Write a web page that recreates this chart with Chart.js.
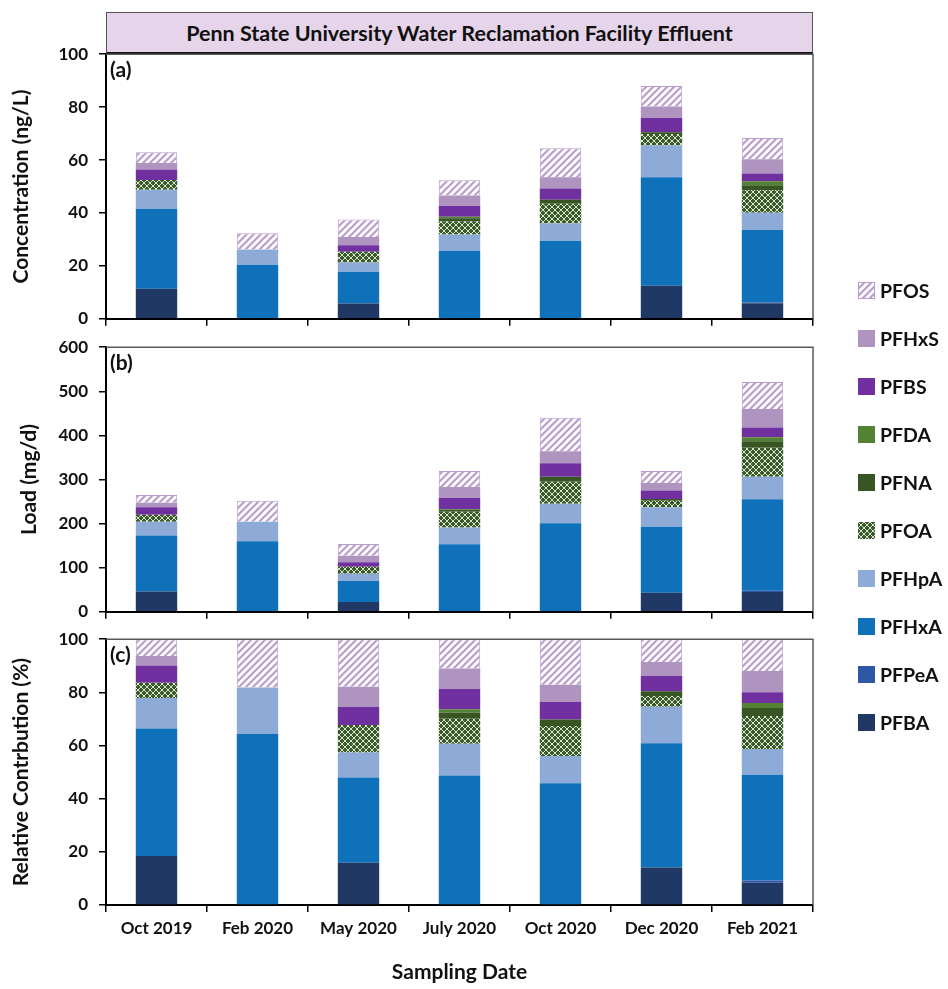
<!DOCTYPE html>
<html>
<head>
<meta charset="utf-8">
<script src="https://cdn.jsdelivr.net/npm/chart.js@4.4.1/dist/chart.umd.min.js"></script>
<style>
  html, body { margin:0; padding:0; background:#fff; }
  body { width:948px; height:989px; position:relative; overflow:hidden; font-family: Lato, "Open Sans", sans-serif; }
  #title {
    position:absolute; left:106px; top:12px; width:705px; height:39px;
    background:#e6d5ea; border:1.5px solid #555; border-bottom:2px solid #111;
    font-weight:700; font-size:21.5px; color:#111;
    display:flex; align-items:center; justify-content:center;
  }
  .panel { position:absolute; left:0; width:948px; }
  #legend { position:absolute; left:858px; top:0; }
  .item { position:absolute; left:0; display:flex; align-items:center; white-space:nowrap; font-weight:700; font-size:19.5px; color:#111; }
  .sw { width:17px; height:17px; margin-right:5px; flex:none; }
</style>
</head>
<body>
<div id="title">Penn State University Water Reclamation Facility Effluent</div>
<canvas id="chartA" class="panel" width="948" height="300"></canvas>
<canvas id="chartB" class="panel" width="948" height="300"></canvas>
<canvas id="chartC" class="panel" width="948" height="360"></canvas>
<div id="legend"></div>
<script>
// sampling campaigns
const dates = ['Oct 2019','Feb 2020','May 2020','July 2020','Oct 2020','Dec 2020','Feb 2021'];
const compounds = ['PFBA','PFPeA','PFHxA','PFHpA','PFOA','PFNA','PFDA','PFBS','PFHxS','PFOS'];

// (a) concentration, ng/L
const concPFBA  = [11.4, 0, 5.8, 0, 0, 12.5, 5.9];
const concPFPeA = [0, 0, 0, 0, 0, 0, 0.3];
const concPFHxA = [30.1, 20.4, 12.0, 25.6, 29.4, 41.0, 27.4];
const concPFHpA = [7.3, 5.8, 3.5, 6.3, 6.6, 12.0, 6.5];
const concPFOA  = [3.7, 0, 4.0, 4.9, 7.5, 4.3, 8.5];
const concPFNA  = [0, 0, 0, 1.2, 1.5, 0.7, 1.9];
const concPFDA  = [0, 0, 0, 0.6, 0, 0, 1.5];
const concPFBS  = [3.9, 0, 2.5, 4.0, 4.2, 5.4, 2.9];
const concPFHxS = [2.5, 0, 3.1, 4.0, 4.3, 4.3, 5.4];
const concPFOS  = [4.0, 6.1, 6.6, 5.8, 11.0, 7.8, 8.0];

// (b) load, mg/d
const loadPFBA  = [46, 0, 22, 0, 0, 43, 45];
const loadPFPeA = [0, 0, 0, 0, 0, 0, 3];
const loadPFHxA = [127, 160, 48, 153, 201, 150, 207];
const loadPFHpA = [31, 44, 16, 38, 44, 44, 51];
const loadPFOA  = [16, 0, 16, 36, 50, 15, 66];
const loadPFNA  = [0, 0, 0, 4, 11, 4, 15];
const loadPFDA  = [0, 0, 0, 1.5, 0, 0, 9];
const loadPFBS  = [17, 0, 10.5, 25.5, 31, 19, 22];
const loadPFHxS = [10, 0, 14.5, 25, 27, 17, 42];
const loadPFOS  = [18, 48, 27, 36, 76, 27, 61];

// (c) relative contribution, %
const pctPFBA  = [18.4, 0, 15.9, 0, 0, 14.1, 8.4];
const pctPFPeA = [0, 0, 0, 0, 0, 0, 0.8];
const pctPFHxA = [48.0, 64.3, 32.1, 48.7, 45.8, 46.8, 39.8];
const pctPFHpA = [11.5, 17.5, 9.4, 12.0, 10.3, 13.7, 9.7];
const pctPFOA  = [5.7, 0, 10.3, 9.4, 11.2, 4.0, 12.4];
const pctPFNA  = [0, 0, 0, 2.3, 2.5, 1.8, 3.0];
const pctPFDA  = [0, 0, 0, 1.2, 0, 0, 1.9];
const pctPFBS  = [6.5, 0, 6.8, 7.7, 6.6, 5.8, 4.0];
const pctPFHxS = [3.6, 0, 7.6, 7.7, 6.5, 5.2, 8.0];
const pctPFOS  = [6.3, 18.2, 17.9, 11.0, 17.1, 8.6, 12.0];

// fill patterns
function makeTile(size, draw){
  const c = document.createElement('canvas');
  c.width = size; c.height = size;
  draw(c.getContext('2d'), size);
  return c;
}
const hatchTile = makeTile(7, (g, s)=>{
  g.fillStyle = '#fff'; g.fillRect(0,0,s,s);
  g.strokeStyle = '#bb9ecc'; g.lineWidth = 2.2;
  g.beginPath();
  g.moveTo(-1, s+1); g.lineTo(s+1, -1);
  g.moveTo(-2, 2); g.lineTo(2, -2);
  g.moveTo(s-2, s+2); g.lineTo(s+2, s-2);
  g.stroke();
});
const meshTile = makeTile(6, (g, s)=>{
  g.fillStyle = '#3a5b29'; g.fillRect(0,0,s,s);
  g.strokeStyle = 'rgba(235,242,228,0.9)'; g.lineWidth = 1;
  g.beginPath();
  g.moveTo(0,0); g.lineTo(s,s);
  g.moveTo(0,s); g.lineTo(s,0);
  g.stroke();
});
const tmpCtx = document.createElement('canvas').getContext('2d');
const hatch = tmpCtx.createPattern(hatchTile, 'repeat');
const mesh  = tmpCtx.createPattern(meshTile, 'repeat');

const colors = {
  PFBA:'#1f3864', PFPeA:'#2e58a6', PFHxA:'#1071bb', PFHpA:'#8eabd8', PFOA:mesh,
  PFNA:'#375623', PFDA:'#548235', PFBS:'#7030a0', PFHxS:'#b094c0', PFOS:hatch
};

function datasets(series){
  return compounds.map((name, i)=>({
    label: name,
    data: series[i],
    backgroundColor: colors[name],
    borderColor: name==='PFOS' ? '#b99ccb' : 'transparent',
    borderWidth: name==='PFOS' ? 1 : 0,
    categoryPercentage: 0.41,
    barPercentage: 1
  }));
}

// plot frame (top + right edges) and panel tag
const frame = {
  id:'frame',
  afterDraw(chart, args, opts){
    const {ctx, chartArea:a} = chart;
    ctx.save();
    ctx.strokeStyle = '#595959'; ctx.lineWidth = 1.5;
    ctx.beginPath();
    ctx.moveTo(a.left, a.top); ctx.lineTo(a.right, a.top); ctx.lineTo(a.right, a.bottom);
    ctx.stroke();
    ctx.fillStyle = '#111';
    ctx.font = 'bold 21px Lato, "Open Sans", sans-serif';
    ctx.textBaseline = 'top';
    ctx.fillText(opts.tag, a.left + 4, a.top + 6);
    ctx.restore();
  }
};

const tickFont = { family:'Lato, "Open Sans", sans-serif', size:17, weight:'bold' };
const titleFont = { family:'Lato, "Open Sans", sans-serif', size:21, weight:'bold' };

function makeChart(canvas, series, opt){
  return new Chart(canvas, {
    type:'bar',
    data:{ labels: dates, datasets: datasets(series) },
    plugins:[frame],
    options:{
      responsive:false, maintainAspectRatio:false, animation:false, devicePixelRatio:1,
      layout:{ padding:{ top:0, right:135, left:0, bottom:0 } },
      plugins:{ legend:{display:false}, tooltip:{enabled:false}, frame:{ tag: opt.tag } },
      scales:{
        x:{
          stacked:true,
          border:{ color:'#000', width:2 },
          grid:{ drawOnChartArea:false, drawTicks:true, tickLength:7, color:'#000', lineWidth:1.5, offset:true },
          ticks:{ display: opt.showX, color:'#111', font:tickFont, padding:6, maxRotation:0 },
          title:{ display: opt.showX, text:'Sampling Date', color:'#111', font:titleFont, padding:{ top:0, bottom:4 } },
          afterFit: s => { s.height = opt.xHeight; }
        },
        y:{
          stacked:true, min:0, max:opt.max,
          border:{ color:'#000', width:2 },
          grid:{ drawOnChartArea:false, drawTicks:true, tickLength:7, color:'#000', lineWidth:1.5 },
          ticks:{ stepSize:opt.step, color:'#111', font:tickFont, padding:11 },
          title:{ display:true, text:opt.yTitle, color:'#111', font:titleFont, padding:{ top:opt.titlePad, bottom:0 } },
          afterFit: s => { s.width = 106; }
        }
      }
    }
  });
}

// build once to learn the margins around the plot area, then size the canvas
// so the plot lands on [plotTop, plotBottom]
function buildPanel(id, series, opt){
  const canvas = document.getElementById(id);
  let chart = makeChart(canvas, series, opt);
  const above = chart.chartArea.top;
  const below = chart.height - chart.chartArea.bottom;
  chart.destroy();
  const h = Math.round(opt.plotBottom - opt.plotTop + above + below);
  canvas.width = 948; canvas.height = h;
  canvas.style.width = '948px'; canvas.style.height = h + 'px';
  canvas.style.top = Math.round(opt.plotTop - above) + 'px';
  return makeChart(canvas, series, opt);
}

buildPanel('chartA',
  [concPFBA, concPFPeA, concPFHxA, concPFHpA, concPFOA, concPFNA, concPFDA, concPFBS, concPFHxS, concPFOS],
  { tag:'(a)', max:100, step:20, yTitle:'Concentration (ng/L)', titlePad:9, showX:false, xHeight:15, plotTop:54, plotBottom:319 });
buildPanel('chartB',
  [loadPFBA, loadPFPeA, loadPFHxA, loadPFHpA, loadPFOA, loadPFNA, loadPFDA, loadPFBS, loadPFHxS, loadPFOS],
  { tag:'(b)', max:600, step:100, yTitle:'Load (mg/d)', titlePad:17, showX:false, xHeight:15, plotTop:347, plotBottom:612 });
buildPanel('chartC',
  [pctPFBA, pctPFPeA, pctPFHxA, pctPFHpA, pctPFOA, pctPFNA, pctPFDA, pctPFBS, pctPFHxS, pctPFOS],
  { tag:'(c)', max:100, step:20, yTitle:'Relative Contrbution (%)', titlePad:9, showX:true, xHeight:84, plotTop:639, plotBottom:905 });

// legend, top entry first
const legend = document.getElementById('legend');
compounds.slice().reverse().forEach((name, i)=>{
  const row = document.createElement('div');
  row.className = 'item';
  row.style.top = (291 + i*48 - 12) + 'px';
  const sw = document.createElement('span');
  sw.className = 'sw';
  if(name==='PFOS'){ sw.style.backgroundImage = `url(${hatchTile.toDataURL()})`; sw.style.outline = '1px solid #b99ccb'; sw.style.outlineOffset = '-1px'; }
  else if(name==='PFOA'){ sw.style.backgroundImage = `url(${meshTile.toDataURL()})`; }
  else sw.style.background = colors[name];
  row.appendChild(sw);
  row.appendChild(document.createTextNode(name));
  legend.appendChild(row);
});
</script>
</body>
</html>
